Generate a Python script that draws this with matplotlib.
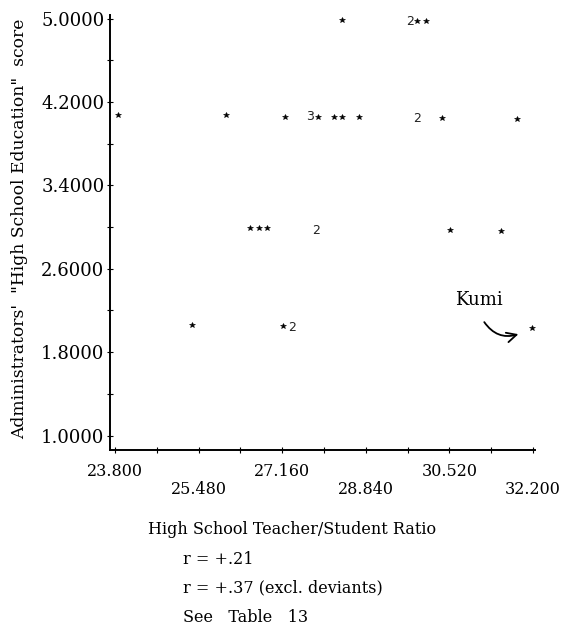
import numpy as np
import matplotlib
matplotlib.use("Agg")
import matplotlib.pyplot as plt
from matplotlib.ticker import FixedLocator, NullFormatter

# ---- data ----
# single cases (printed as '*')
star_x = [23.86, 26.04, 27.21, 27.87, 28.21, 28.37, 28.71, 30.37, 31.88,
          28.37, 29.87, 30.05,
          26.51, 26.69, 26.85, 30.53, 31.56,
          25.34, 27.17, 32.18]
star_y = [4.07, 4.07, 4.06, 4.06, 4.06, 4.06, 4.06, 4.05, 4.04,
          4.99, 4.98, 4.98,
          2.99, 2.99, 2.99, 2.97, 2.96,
          2.06, 2.05, 2.03]
# multiple cases at one position (printed as the count)
multi_x = [27.71, 29.87, 29.73, 27.85, 27.35]
multi_y = [4.06, 4.04, 4.97, 2.97, 2.04]
multi_n = [3, 2, 2, 2, 2]

kumi_x, kumi_y = 32.18, 2.03

y_major = [1.0, 1.8, 2.6, 3.4, 4.2, 5.0]
y_minor = [1.4, 2.2, 3.0, 3.8, 4.6]
x_major = [23.80, 25.48, 27.16, 28.84, 30.52, 32.20]
x_minor = [24.64, 26.32, 28.00, 29.68, 31.36]
x_labels = ["23.800", "25.480", "27.160", "28.840", "30.520", "32.200"]
y_labels = ["1.0000", "1.8000", "2.6000", "3.4000", "4.2000", "5.0000"]

W, H = 564, 627
fig = plt.figure(figsize=(W / 100, H / 100), dpi=100)
ax = fig.add_axes([110 / W, 1 - 450 / H, (535 - 110) / W, (450 - 15) / H])

ax.plot(star_x, star_y, linestyle="none", marker="*", markersize=4.4,
        color="black", markeredgewidth=0.4)
for x, y, n in zip(multi_x, multi_y, multi_n):
    ax.text(x, y, str(n), ha="center", va="center", fontsize=9,
            family="DejaVu Sans", color="#222222")

ax.set_xlim(23.70, 32.24)
ax.set_ylim(0.861, 5.034)

for s in ["top", "right"]:
    ax.spines[s].set_visible(False)
for s in ["left", "bottom"]:
    ax.spines[s].set_linewidth(1.4)
    ax.spines[s].set_color("black")

ax.yaxis.set_major_locator(FixedLocator(y_major))
ax.yaxis.set_minor_locator(FixedLocator(y_minor))
ax.set_yticklabels(y_labels, family="DejaVu Serif", fontsize=13)
ax.xaxis.set_major_locator(FixedLocator(x_major))
ax.xaxis.set_minor_locator(FixedLocator(x_minor))
ax.set_xticklabels(x_labels, family="DejaVu Serif", fontsize=11.5)
ax.tick_params(axis="both", which="both", direction="inout", length=4,
               width=0.8, color="black")
ax.tick_params(axis="y", which="major", pad=2)
for i, t in enumerate(ax.xaxis.get_major_ticks()):
    t.set_pad(7 if i % 2 == 0 else 20)

# Kumi annotation
ax.text(kumi_x - 1.07, kumi_y + 0.27, "Kumi", ha="center", va="center",
        family="DejaVu Serif", fontsize=13)
ax.annotate("", xy=(kumi_x - 0.22, kumi_y - 0.05),
            xytext=(kumi_x - 0.99, kumi_y + 0.08),
            arrowprops=dict(arrowstyle="->,head_length=0.7,head_width=0.35",
                            connectionstyle="arc3,rad=0.4", lw=1.3,
                            color="black"))

fig.text(20 / W, 1 - 229 / H,
         "Administrators'  \"High School Education\"  score",
         rotation=90, ha="center", va="center", family="DejaVu Serif",
         fontsize=12.3)

fig.text(148 / W, 1 - 530 / H, "High School Teacher/Student Ratio",
         ha="left", va="center", family="DejaVu Serif", fontsize=11.5)
fig.text(183 / W, 1 - 560 / H, "r = +.21", ha="left", va="center",
         family="DejaVu Serif", fontsize=11.5)
fig.text(183 / W, 1 - 588 / H, "r = +.37 (excl. deviants)", ha="left",
         va="center", family="DejaVu Serif", fontsize=11.5)
fig.text(183 / W, 1 - 618 / H, "See   Table   13", ha="left", va="center",
         family="DejaVu Serif", fontsize=11.5)

fig.savefig("out.png", dpi=100)
